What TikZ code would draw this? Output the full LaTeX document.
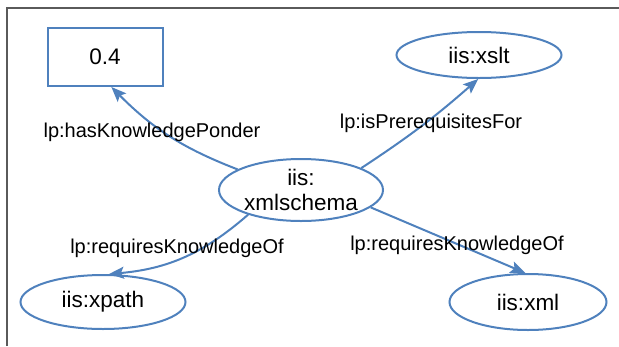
\documentclass[tikz,border=0pt]{standalone}
\usepackage{fontspec}
\setmainfont{Liberation Sans}
\usetikzlibrary{shapes.geometric,arrows.meta}
\definecolor{linkblue}{RGB}{79,129,189}
\definecolor{framegray}{RGB}{90,90,90}

\begin{document}
\begin{tikzpicture}[x=1pt,y=-1pt,
  >={Stealth[length=15pt,width=12pt,inset=3pt]},
  concept/.style={draw=linkblue,line width=2pt,ellipse,inner sep=0pt,
    font=\fontsize{22.5}{25}\selectfont,align=center},
  literal/.style={draw=linkblue,line width=2pt,rectangle,
    minimum width=115pt,minimum height=58pt,font=\fontsize{22.5}{25}\selectfont},
  rel/.style={font=\fontsize{20}{24}\selectfont},
  link/.style={draw=linkblue,line width=2pt,->}]
  \useasboundingbox (0,0) rectangle (619,346);
  \draw[framegray,line width=2pt] (7,346) -- (7,8) -- (619,8);

  % resources
  \node[literal] (ponder) at (105,57) {0.4};
  \node[concept,minimum width=165pt,minimum height=46pt] (xslt) at (479,55) {iis:xslt};
  \node[concept,minimum width=164pt,minimum height=62pt] (schema) at (301,190) {iis:\\xmlschema};
  \node[concept,minimum width=165pt,minimum height=54pt] (xpath) at (103,302) {iis:xpath};
  \node[concept,minimum width=157pt,minimum height=56pt] (xml) at (528,302) {iis:xml};

  % properties
  \path[link] (schema.162) to[bend left=12] (ponder.-78);
  \path[link] (schema.20) to[bend right=4] (xslt.-92);
  \path[link] (schema.205) to[bend left=18] (xpath.78);
  \path[link] (schema.-14) to (xml.95);

  \node[rel] (lhas) at (152,132) {lp:hasKnowledgePonder};
  \node[rel] (lpre) at (431,123) {lp:isPrerequisitesFor};
  \node[rel] (lreqa) at (177,248) {lp:requiresKnowledgeOf};
  \node[rel] (lreqb) at (457,245) {lp:requiresKnowledgeOf};
\end{tikzpicture}
\end{document}
